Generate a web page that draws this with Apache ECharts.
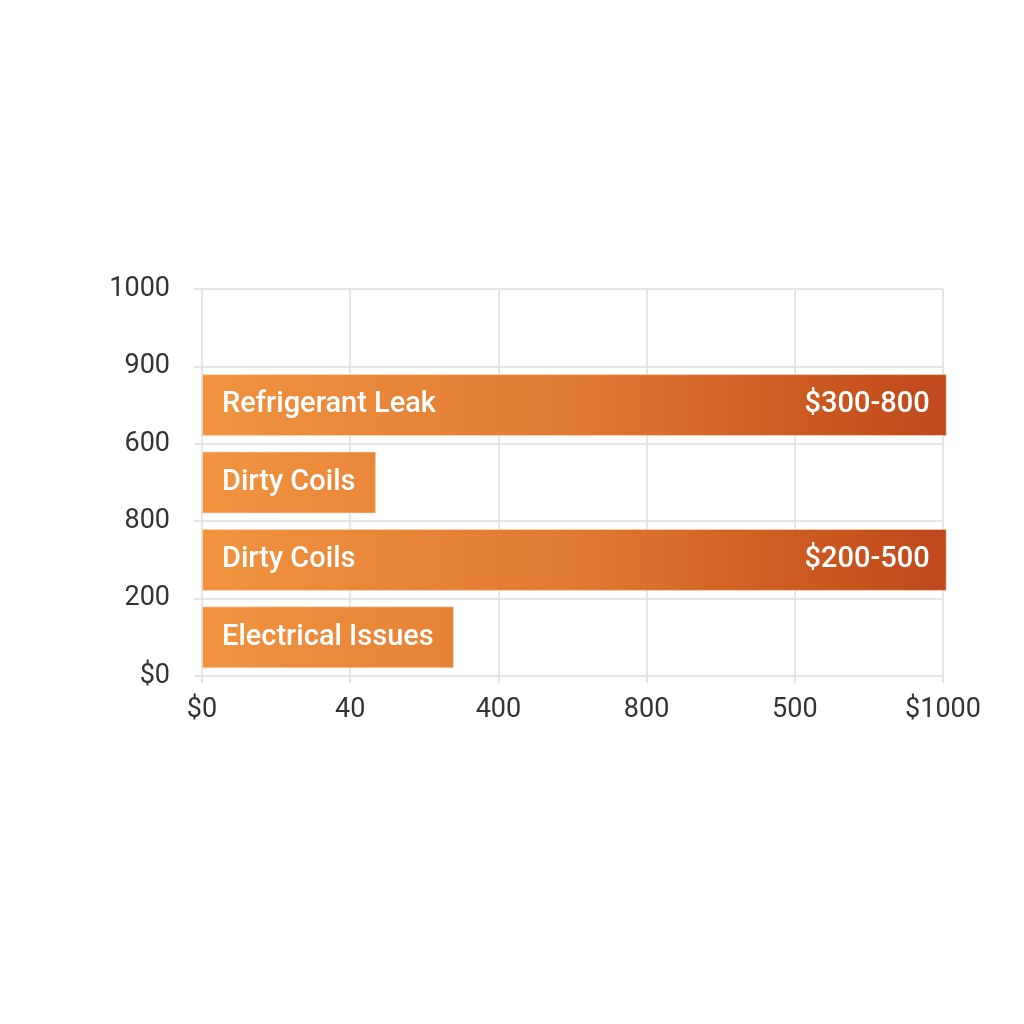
<!DOCTYPE html>
<html>
<head>
<meta charset="utf-8">
<script src="https://cdn.jsdelivr.net/npm/echarts@6/dist/echarts.min.js"></script>
<style>
html,body{margin:0;padding:0;background:#fff;}
#chart{width:1024px;height:1024px;}
</style>
</head>
<body>
<div id="chart"></div>
<script>
// Data
const barSlots = ['slot0', 'slot1', 'slot2', 'slot3', 'slot4'];
const barNames = ['', 'Refrigerant Leak', 'Dirty Coils', 'Dirty Coils', 'Electrical Issues'];
const barValues = [null, 1005, 235, 1005, 340];
const priceLabels = ['', '$300-800', '', '$200-500', ''];
const yTickLabels = ['$0', '200', '800', '600', '900', '1000'];
const xTickLabels = ['$0', '40', '400', '800', '500', '$1000'];

const chart = echarts.init(document.getElementById('chart'));
const FONT = 'Roboto, "Noto Sans", sans-serif';
const grad = new echarts.graphic.LinearGradient(202, 0, 947, 0, [
  {offset: 0, color: '#F1933F'},
  {offset: 0.5, color: '#DF7A32'},
  {offset: 0.85, color: '#C9561F'},
  {offset: 1, color: '#BF481E'}
], true);

chart.setOption({
  backgroundColor: '#ffffff',
  animation: false,
  grid: {left: 202, right: 81, top: 289, bottom: 348, containLabel: false},
  xAxis: {
    type: 'value', min: 0, max: 1000, interval: 200,
    axisLine: {show: false},
    axisTick: {show: true, length: 7, lineStyle: {color: '#dcdcdc', width: 1.5}},
    splitLine: {show: true, lineStyle: {color: '#dcdcdc', width: 1.5}},
    axisLabel: {
      margin: 21, fontSize: 27, color: '#333', fontFamily: FONT,
      formatter: v => xTickLabels[Math.round(v / 200)]
    }
  },
  yAxis: [
    {
      type: 'category', data: barSlots, inverse: true,
      axisLine: {show: false}, axisTick: {show: false}, axisLabel: {show: false},
      splitLine: {show: false}
    },
    {
      type: 'value', min: 0, max: 5, interval: 1, position: 'left',
      axisLine: {show: false},
      axisTick: {show: true, length: 8, lineStyle: {color: '#dcdcdc', width: 1.5}},
      splitLine: {show: true, lineStyle: {color: '#dcdcdc', width: 1.5}},
      axisLabel: {
        margin: 32, fontSize: 27, color: '#333', fontFamily: FONT,
        formatter: v => yTickLabels[Math.round(v)]
      }
    }
  ],
  series: [
    {
      type: 'bar', yAxisIndex: 0, barWidth: 62, clip: false,
      data: barValues,
      itemStyle: {color: grad, borderColor: 'rgba(255,220,190,0.6)', borderWidth: 1},
      label: {
        show: true, position: 'insideLeft', distance: 20,
        color: '#fff', fontSize: 29, fontWeight: 500, fontFamily: FONT,
        formatter: p => barNames[p.dataIndex]
      }
    },
    {
      type: 'bar', yAxisIndex: 0, barWidth: 62, barGap: '-100%', clip: false,
      data: barValues,
      itemStyle: {color: 'rgba(0,0,0,0)'},
      label: {
        show: true, position: 'insideRight', distance: 17,
        color: '#fff', fontSize: 29, fontWeight: 500, fontFamily: FONT,
        formatter: p => priceLabels[p.dataIndex]
      }
    }
  ]
});
</script>
</body>
</html>
